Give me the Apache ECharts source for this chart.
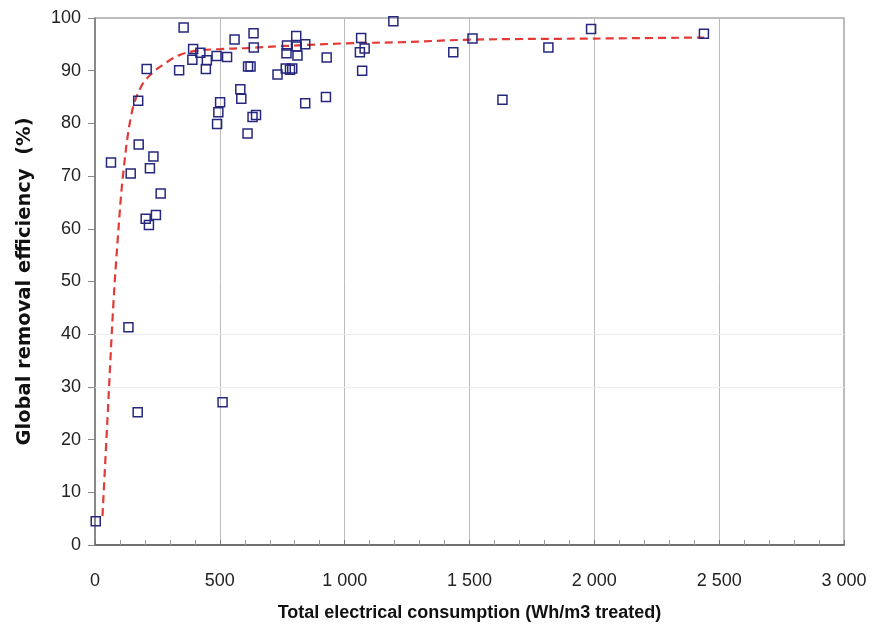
<!DOCTYPE html>
<html>
<head>
<meta charset="utf-8">
<script src="https://cdn.jsdelivr.net/npm/echarts@6/dist/echarts.min.js"></script>
<style>
html,body{margin:0;padding:0;background:#fff;}
#chart{width:872px;height:631px;}
</style>
</head>
<body>
<div id="chart"></div>
<script>
// Measured points: total electrical consumption (Wh/m3) vs global removal efficiency (%)
var energyWh = [3, 64, 134, 143, 171, 173, 175, 203, 207, 216, 220, 234, 244, 263,
  337, 355, 390, 393, 422, 444, 448, 487, 489, 494, 501, 511, 529, 559, 582, 586,
  611, 613, 623, 631, 635, 636, 645, 731, 764, 767, 769, 781, 790, 806, 808, 811,
  842, 842, 928, 925, 1061, 1066, 1070, 1080, 1195, 1435, 1512, 1632, 1816, 1987, 2439];
var removalPct = [4.5, 72.6, 41.3, 70.5, 25.2, 84.3, 76.0, 61.9, 90.3, 60.7, 71.5, 73.7, 62.6, 66.7,
  90.1, 98.2, 92.1, 94.1, 93.4, 90.3, 92.0, 92.8, 79.9, 82.1, 84.0, 27.1, 92.6, 95.9, 86.5, 84.7,
  78.1, 90.8, 90.8, 81.2, 97.1, 94.4, 81.6, 89.3, 90.4, 93.3, 94.8, 90.2, 90.4, 96.6, 94.6, 92.9,
  95.0, 83.8, 92.5, 85.0, 93.5, 96.2, 90.0, 94.2, 99.4, 93.5, 96.1, 84.5, 94.4, 97.9, 97.0];

// Trend curve, points
var trendX = [30, 50, 73, 91, 113, 147, 185, 230, 287, 340, 407, 500, 607, 767, 1008, 1221, 1512, 2000, 2440];
var trendY = [5.5, 24.0, 45.2, 58.0, 70.5, 82.0, 87.0, 89.6, 91.6, 93.0, 93.8, 94.1, 94.3, 94.7, 95.2, 95.4, 95.9, 96.1, 96.3];

var xTickLabels = {0:'0', 500:'500', 1000:'1 000', 1500:'1 500', 2000:'2 000', 2500:'2 500', 3000:'3 000'};

var scatterData = energyWh.map(function(x, i){ return [x, removalPct[i]]; });
var trendData = trendX.map(function(x, i){ return [x, trendY[i]]; });

var chart = echarts.init(document.getElementById('chart'), null, {renderer:'canvas'});
chart.setOption({
  animation: false,
  backgroundColor: '#ffffff',
  grid: {left: 95, right: 28, top: 18, bottom: 86, outerBoundsMode: 'none', containLabel: false,
    show: true, borderColor: '#a8a8a8', borderWidth: 1.5, backgroundColor: 'transparent'},
  xAxis: {
    type: 'value', min: 0, max: 3000, interval: 500,
    name: 'Total electrical consumption (Wh/m3 treated)',
    nameLocation: 'middle', nameGap: 59,
    nameTextStyle: {fontFamily: 'Liberation Sans, Arial, sans-serif', fontWeight: 'bold', fontSize: 18, color: '#111'},
    axisLine: {show: true, lineStyle: {color: '#555', width: 1.5}},
    axisTick: {show: true, inside: true, length: 5, lineStyle: {color: '#777'}},
    minorTick: {show: true, splitNumber: 5, length: 5, lineStyle: {color: '#999'}},
    splitLine: {show: true, lineStyle: {color: '#bcbcbc', width: 1}},
    axisLabel: {margin: 27, fontFamily: 'Liberation Sans, Arial, sans-serif', fontSize: 18, color: '#222',
      formatter: function(v){ return xTickLabels[v] !== undefined ? xTickLabels[v] : ''; }}
  },
  yAxis: {
    type: 'value', min: 0, max: 100, interval: 10,
    name: 'Global removal efficiency  (%)',
    nameLocation: 'middle', nameGap: 60,
    nameTextStyle: {fontFamily: 'DejaVu Sans, sans-serif', fontWeight: 'bold', fontSize: 19.5, color: '#111'},
    axisLine: {show: true, lineStyle: {color: '#777', width: 1.5}},
    axisTick: {show: true, inside: false, length: 7, lineStyle: {color: '#888'}},
    splitLine: {show: false},
    axisLabel: {margin: 14, fontFamily: 'Liberation Sans, Arial, sans-serif', fontSize: 18, color: '#222'}
  },
  series: [
    {
      type: 'line',
      data: trendData,
      smooth: 0.35,
      showSymbol: false,
      symbol: 'none',
      lineStyle: {color: '#e23a36', width: 2.2, type: [8, 5]},
      z: 2,
      markLine: {
        silent: true, symbol: 'none', label: {show: false},
        lineStyle: {color: '#ececec', width: 1, type: 'solid'},
        data: [{yAxis: 30}, {yAxis: 40}]
      }
    },
    {
      type: 'scatter',
      data: scatterData,
      symbol: 'rect',
      symbolSize: 9,
      itemStyle: {color: 'rgba(255,255,255,0)', borderColor: '#26277f', borderWidth: 1.5, opacity: 1},
      z: 3
    }
  ]
});
</script>
</body>
</html>
